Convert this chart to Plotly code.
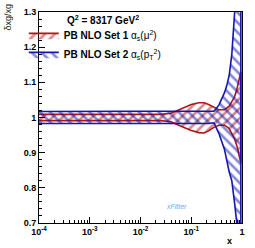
import plotly.graph_objects as go

# ---- data ----
x_vals = [1e-4, 1e-3, 1e-2, 0.025, 0.04, 0.063, 0.1, 0.14, 0.18, 0.22, 0.28,
          0.35, 0.45, 0.5, 0.56, 0.63, 0.71, 0.79, 0.89, 0.95]
set1_up = [1.009, 1.009, 1.009, 1.009, 1.012, 1.025, 1.037, 1.042, 1.042, 1.037, 1.028,
           1.022, 1.022, 1.026, 1.032, 1.045, 1.058, 1.08, 1.11, 1.13]
set1_lo = [0.991, 0.991, 0.991, 0.991, 0.988, 0.975, 0.963, 0.957, 0.956, 0.962, 0.972,
           0.978, 0.978, 0.974, 0.968, 0.955, 0.94, 0.92, 0.89, 0.87]
set2_up = [1.017, 1.017, 1.017, 1.017, 1.017, 1.017, 1.017, 1.017, 1.017, 1.017, 1.018,
           1.035, 1.07, 1.09, 1.12, 1.18, 1.28, 1.38, 1.5, 1.6]
set2_lo = [0.983, 0.983, 0.983, 0.983, 0.983, 0.983, 0.983, 0.983, 0.983, 0.983, 0.985,
           0.955, 0.91, 0.88, 0.845, 0.82, 0.76, 0.70, 0.60, 0.50]

x_ticks = [1e-4, 1e-3, 1e-2, 1e-1, 1]
x_ticktext = ["<b>10<sup>-4</sup></b>", "<b>10<sup>-3</sup></b>", "<b>10<sup>-2</sup></b>",
              "<b>10<sup>-1</sup></b>", "<b>1</b>"]
y_ticks = [0.7, 0.8, 0.9, 1.0, 1.1, 1.2, 1.3]
y_ticktext = ["<b>0.7</b>", "<b>0.8</b>", "<b>0.9</b>", "<b>1</b>", "<b>1.1</b>",
              "<b>1.2</b>", "<b>1.3</b>"]
x_minor = [m * 10 ** e for e in (-4, -3, -2, -1) for m in range(2, 10)]

name1 = "<b>PB NLO Set 1</b> α<sub>s</sub>(μ<sup>2</sup>)"
name2 = "<b>PB NLO Set 2</b> α<sub>s</sub>(p<sub>T</sub><sup>2</sup>)"
q2_label = "<b>Q<sup>2</sup> = 8317 GeV<sup>2</sup></b>"

RED = "#b01515"
BLUE = "#1515b0"

fig = go.Figure()

def band(up, lo, color, shape, name):
    xs = x_vals + x_vals[::-1]
    ys = up + lo[::-1]
    fig.add_trace(go.Scatter(
        x=xs, y=ys, mode="lines", fill="toself", name=name,
        line=dict(color=color, width=1.6),
        fillcolor="rgba(0,0,0,0)",
        fillpattern=dict(shape=shape, fgcolor=color, bgcolor="rgba(0,0,0,0)",
                         size=7, solidity=0.38),
        hoverinfo="skip",
    ))

band(set1_up, set1_lo, RED, "/", name1)
band(set2_up, set2_lo, BLUE, "\\", name2)

FONT = "Liberation Sans, Arial, Helvetica, sans-serif"

fig.update_layout(
    width=255, height=248, autosize=False,
    margin=dict(l=39, r=13, t=12, b=25, autoexpand=False),
    paper_bgcolor="white", plot_bgcolor="white",
    font=dict(family=FONT, color="black", size=8),
    showlegend=True,
    legend=dict(
        x=-0.075, y=0.958, xanchor="left", yanchor="top",
        bgcolor="rgba(0,0,0,0)", borderwidth=0,
        font=dict(family=FONT, size=10, color="black"),
        itemwidth=30, tracegroupgap=0,
    ),
    xaxis=dict(
        type="log", range=[-4, 0],
        tickmode="array", tickvals=x_ticks, ticktext=x_ticktext,
        tickfont=dict(family=FONT, size=9, color="black"),
        ticks="inside", ticklen=6, tickcolor="black", tickwidth=1,
        minor=dict(tickmode="array", tickvals=x_minor, ticks="inside", ticklen=3,
                   tickcolor="black", tickwidth=1),
        showline=True, linecolor="black", linewidth=1, mirror=True,
        showgrid=False, zeroline=False,
    ),
    yaxis=dict(
        range=[0.7, 1.3],
        tickmode="array", tickvals=y_ticks, ticktext=y_ticktext,
        tickfont=dict(family=FONT, size=9, color="black"),
        ticks="inside", ticklen=6, tickcolor="black", tickwidth=1,
        minor=dict(dtick=0.02, ticks="inside", ticklen=3, tickcolor="black", tickwidth=1),
        showline=True, linecolor="black", linewidth=1, mirror=True,
        showgrid=False, zeroline=False,
    ),
    annotations=[
        dict(text=q2_label, xref="paper", yref="paper", x=0.128, y=0.962,
             xanchor="left", yanchor="middle", showarrow=False,
             font=dict(family=FONT, size=10, color="black")),
        dict(text="δxg/xg", xref="paper", yref="paper", x=-0.155, y=1.05,
             xanchor="center", yanchor="top", textangle=-90, showarrow=False,
             font=dict(family=FONT, size=9, color="#222")),
        dict(text="<b>x</b>", xref="paper", yref="paper", x=0.94, y=-0.085,
             xanchor="center", yanchor="middle", showarrow=False,
             font=dict(family=FONT, size=9, color="black")),
        dict(text="<i>xFitter</i>", xref="paper", yref="paper", x=0.675, y=0.076,
             xanchor="center", yanchor="middle", showarrow=False,
             font=dict(family=FONT, size=7, color="#5ab4ea")),
    ],
)

fig.write_html("out.html", config={"displayModeBar": False},
               post_script="document.body.style.margin='0';document.body.style.overflow='hidden';")
